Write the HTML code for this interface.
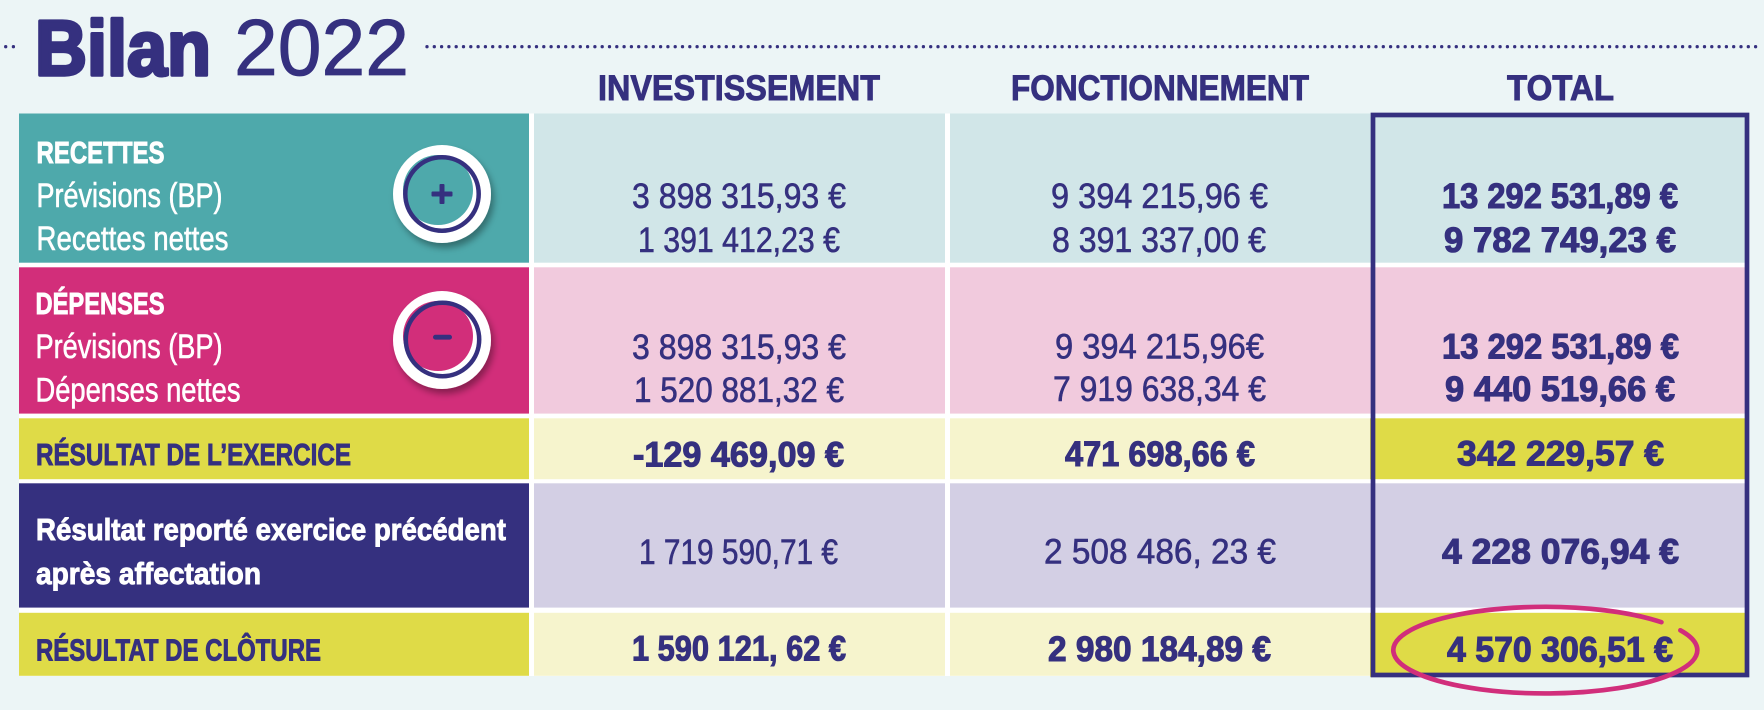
<!DOCTYPE html>
<html><head><meta charset="utf-8"><style>
html,body{margin:0;padding:0;background:#ecf5f6;}
svg{display:block;}
text{font-family:"Liberation Sans","DejaVu Sans",sans-serif;}
</style></head><body>
<svg width="1764" height="710" viewBox="0 0 1764 710" xmlns="http://www.w3.org/2000/svg">
<defs>
<filter id="sh" x="-30%" y="-30%" width="170%" height="170%">
<feDropShadow dx="3" dy="5" stdDeviation="3.5" flood-color="#000" flood-opacity="0.35"/>
</filter>
</defs>
<rect width="1764" height="710" fill="#ecf5f6"/>
<!-- dotted lines -->
<line x1="5.7" y1="46.7" x2="14" y2="46.7" stroke="#35307f" stroke-width="3.3" stroke-linecap="round" stroke-dasharray="0 7.7"/>
<line x1="427" y1="46.7" x2="1760" y2="46.7" stroke="#35307f" stroke-width="3.3" stroke-linecap="round" stroke-dasharray="0 7.3"/>
<!-- title -->
<text x="35" y="75" font-size="78" font-weight="bold" fill="#35307f" stroke="#35307f" stroke-width="3.5" stroke-linejoin="round" textLength="176" lengthAdjust="spacingAndGlyphs">Bilan</text>
<text x="234" y="75" font-size="80" fill="#35307f" stroke="#35307f" stroke-width="0.8" textLength="175" lengthAdjust="spacingAndGlyphs">2022</text>
<!-- headers -->
<g font-size="35" font-weight="bold" fill="#35307f" stroke="#35307f" stroke-width="0.9">
<text x="598" y="100" textLength="282" lengthAdjust="spacingAndGlyphs">INVESTISSEMENT</text>
<text x="1011" y="100" textLength="298" lengthAdjust="spacingAndGlyphs">FONCTIONNEMENT</text>
<text x="1507" y="100" textLength="107" lengthAdjust="spacingAndGlyphs">TOTAL</text>
</g>
<!-- table white base -->
<rect x="19" y="113.5" width="1730" height="562.5" fill="#ffffff"/>
<!-- row 1 -->
<rect x="19" y="113.5" width="510" height="149.2" fill="#4ea9ab"/>
<rect x="534" y="113.5" width="411" height="149.2" fill="#d1e6e8"/>
<rect x="950" y="113.5" width="420" height="149.2" fill="#d1e6e8"/>
<rect x="1370" y="113.5" width="379" height="149.2" fill="#d1e6e8"/>
<!-- row 2 -->
<rect x="19" y="267.3" width="510" height="146.3" fill="#d22e7a"/>
<rect x="534" y="267.3" width="411" height="146.3" fill="#f1cadd"/>
<rect x="950" y="267.3" width="420" height="146.3" fill="#f1cadd"/>
<rect x="1370" y="267.3" width="379" height="146.3" fill="#f1cadd"/>
<!-- row 3 -->
<rect x="19" y="418.3" width="510" height="60.9" fill="#dfdb47"/>
<rect x="534" y="418.3" width="411" height="60.9" fill="#f6f4cd"/>
<rect x="950" y="418.3" width="420" height="60.9" fill="#f6f4cd"/>
<rect x="1370" y="418.3" width="379" height="60.9" fill="#dfdb47"/>
<!-- row 4 -->
<rect x="19" y="483.3" width="510" height="124.3" fill="#35307f"/>
<rect x="534" y="483.3" width="411" height="124.3" fill="#d3cfe4"/>
<rect x="950" y="483.3" width="420" height="124.3" fill="#d3cfe4"/>
<rect x="1370" y="483.3" width="379" height="124.3" fill="#d3cfe4"/>
<!-- row 5 -->
<rect x="19" y="612.8" width="510" height="63" fill="#dfdb47"/>
<rect x="534" y="612.8" width="411" height="63" fill="#f6f4cd"/>
<rect x="950" y="612.8" width="420" height="63" fill="#f6f4cd"/>
<rect x="1370" y="612.8" width="379" height="64" fill="#dfdb47"/>
<!-- total box -->
<rect x="1373" y="115" width="374" height="560" fill="none" stroke="#35307f" stroke-width="4.7"/>

<!-- circles -->
<g filter="url(#sh)"><circle cx="442" cy="194" r="49" fill="#ffffff"/></g>
<circle cx="438" cy="190" r="35" fill="#4ea9ab"/>
<circle cx="442" cy="194" r="36.7" fill="none" stroke="#35307f" stroke-width="4.5"/>
<rect x="431.5" y="191.5" width="21" height="5" fill="#35307f" rx="1"/>
<rect x="439.5" y="184" width="5" height="20" fill="#35307f" rx="1"/>

<g filter="url(#sh)"><circle cx="442" cy="340" r="49" fill="#ffffff"/></g>
<circle cx="438" cy="336" r="35" fill="#d22e7a"/>
<circle cx="442.5" cy="339.5" r="36.7" fill="none" stroke="#35307f" stroke-width="4.5"/>
<rect x="433" y="334.8" width="19" height="4.8" fill="#35307f" rx="2.4"/>

<!-- row labels -->
<g fill="#ffffff" stroke="#ffffff">
<text x="36.5" y="163" font-size="31" font-weight="bold" stroke-width="0.9" textLength="128" lengthAdjust="spacingAndGlyphs">RECETTES</text>
<text x="36.5" y="207" font-size="34" stroke-width="0.6" textLength="186" lengthAdjust="spacingAndGlyphs">Prévisions (BP)</text>
<text x="36.5" y="250" font-size="34" stroke-width="0.6" textLength="192" lengthAdjust="spacingAndGlyphs">Recettes nettes</text>
<text x="35.5" y="314" font-size="31" font-weight="bold" stroke-width="0.9" textLength="129" lengthAdjust="spacingAndGlyphs">DÉPENSES</text>
<text x="35.5" y="358" font-size="34" stroke-width="0.6" textLength="187" lengthAdjust="spacingAndGlyphs">Prévisions (BP)</text>
<text x="35.5" y="401.5" font-size="34" stroke-width="0.6" textLength="205" lengthAdjust="spacingAndGlyphs">Dépenses nettes</text>
<text x="36" y="540" font-size="31" font-weight="bold" stroke-width="0.9" textLength="470" lengthAdjust="spacingAndGlyphs">Résultat reporté exercice précédent</text>
<text x="36" y="584" font-size="31" font-weight="bold" stroke-width="0.9" textLength="225" lengthAdjust="spacingAndGlyphs">après affectation</text>
</g>
<g fill="#35307f" stroke="#35307f" stroke-width="0.9" font-weight="bold" font-size="31">
<text x="36" y="465" textLength="315" lengthAdjust="spacingAndGlyphs">RÉSULTAT DE L’EXERCICE</text>
<text x="36" y="660.5" textLength="285" lengthAdjust="spacingAndGlyphs">RÉSULTAT DE CLÔTURE</text>
</g>

<!-- values regular -->
<g fill="#35307f" stroke="#35307f" stroke-width="0.6" font-size="35">
<text x="632" y="208" textLength="214" lengthAdjust="spacingAndGlyphs">3 898 315,93 €</text>
<text x="638" y="252" textLength="202" lengthAdjust="spacingAndGlyphs">1 391 412,23 €</text>
<text x="1051" y="208" textLength="217" lengthAdjust="spacingAndGlyphs">9 394 215,96 €</text>
<text x="1052" y="252" textLength="214" lengthAdjust="spacingAndGlyphs">8 391 337,00 €</text>
<text x="632" y="359" textLength="214" lengthAdjust="spacingAndGlyphs">3 898 315,93 €</text>
<text x="634" y="402" textLength="210" lengthAdjust="spacingAndGlyphs">1 520 881,32 €</text>
<text x="1055" y="358.5" textLength="209" lengthAdjust="spacingAndGlyphs">9 394 215,96€</text>
<text x="1053" y="401" textLength="213" lengthAdjust="spacingAndGlyphs">7 919 638,34 €</text>
<text x="639" y="564" textLength="199" lengthAdjust="spacingAndGlyphs">1 719 590,71 €</text>
<text x="1044" y="563.5" textLength="232" lengthAdjust="spacingAndGlyphs">2 508 486, 23 €</text>
</g>
<!-- values bold -->
<g fill="#35307f" stroke="#35307f" stroke-width="1.1" font-size="35" font-weight="bold">
<text x="1442" y="208" textLength="236" lengthAdjust="spacingAndGlyphs">13 292 531,89 €</text>
<text x="1444" y="252" textLength="232" lengthAdjust="spacingAndGlyphs">9 782 749,23 €</text>
<text x="1442" y="358.5" textLength="237" lengthAdjust="spacingAndGlyphs">13 292 531,89 €</text>
<text x="1445" y="401" textLength="230" lengthAdjust="spacingAndGlyphs">9 440 519,66 €</text>
<text x="633" y="466.5" textLength="211" lengthAdjust="spacingAndGlyphs">-129 469,09 €</text>
<text x="1065" y="466" textLength="190" lengthAdjust="spacingAndGlyphs">471 698,66 €</text>
<text x="1457" y="465.5" textLength="207" lengthAdjust="spacingAndGlyphs">342 229,57 €</text>
<text x="1442" y="563.5" textLength="237" lengthAdjust="spacingAndGlyphs">4 228 076,94 €</text>
<text x="632" y="660.5" textLength="214" lengthAdjust="spacingAndGlyphs">1 590 121, 62 €</text>
<text x="1048" y="661" textLength="223" lengthAdjust="spacingAndGlyphs">2 980 184,89 €</text>
<text x="1447" y="661.5" textLength="226" lengthAdjust="spacingAndGlyphs">4 570 306,51 €</text>
</g>

<!-- pink hand-drawn ellipse -->
<path d="M 1680.4 630.3 A 152 43.3 0 1 1 1661.4 622.2" fill="none" stroke="#d12e7b" stroke-width="4.7" stroke-linecap="round"/>
</svg>
</body></html>
